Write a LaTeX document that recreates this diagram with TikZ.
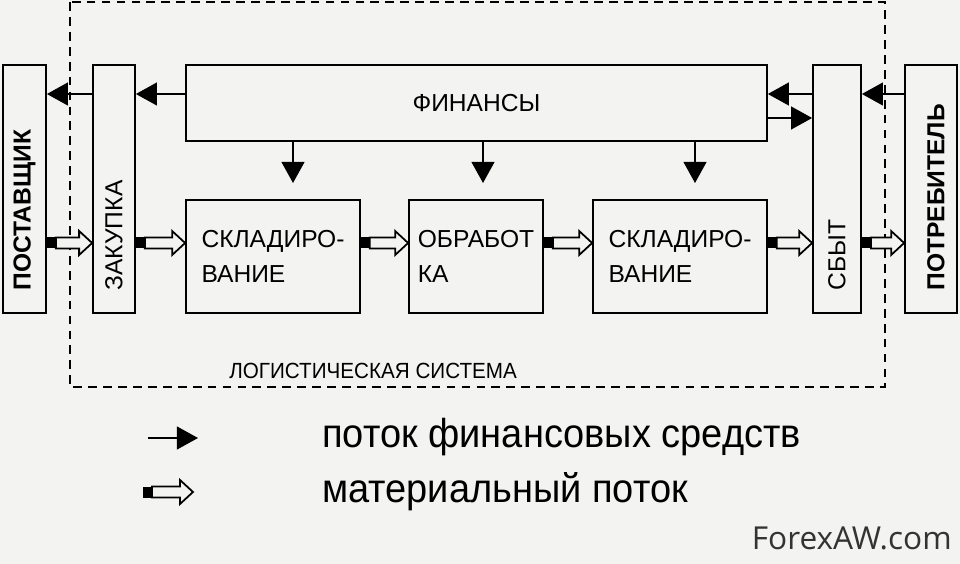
\documentclass[tikz,border=0pt]{standalone}
\usepackage{fontspec}
\setmainfont{Liberation Sans}
\newfontfamily\narrowfont[FakeStretch=0.94]{Liberation Sans}
\newfontfamily\wmfont{Open Sans}
\usetikzlibrary{arrows.meta,calc,positioning}
\definecolor{paper}{RGB}{243,244,241}

\tikzset{
  blok/.style={draw, line width=1pt, inner sep=0pt},
  vtext/.style={rotate=90, anchor=west, inner sep=0pt, font=\fontsize{14}{14}\selectfont},
  fin/.style={line width=1pt, -{Triangle[length=12pt,width=13pt]}},
  matbody/.style={line width=1pt, fill=paper},
  legtext/.style={anchor=west, inner sep=0pt, font=\narrowfont\fontsize{23}{23}\selectfont},
}
% black square, then a hollow arrow
\newcommand{\matflow}[2]{%
  \fill ($#1+(0,-5.5)$) rectangle ($#1+(9,5.5)$);
  \draw[matbody] ($#1+(9,-5.5)$) -- ($#2+(-13,-5.5)$) -- ($#2+(-13,-12)$) -- #2
    -- ($#2+(-13,12)$) -- ($#2+(-13,5.5)$) -- ($#1+(9,5.5)$) -- cycle;
}

\begin{document}
\begin{tikzpicture}[x=0.02cm, y=-0.02cm]
    % Fond
    \fill[paper] (0,0) rectangle (960,564);
    \useasboundingbox (0,0) rectangle (960,564);

    % Logistic system frame
    \draw[line width=1pt, dash pattern=on 5pt off 3.5pt] (70,2) rectangle (885,387);
    \node[anchor=west, inner sep=0pt, font=\narrowfont\fontsize{12.5}{12.5}\selectfont] (logsys) at (229,371) {ЛОГИСТИЧЕСКАЯ СИСТЕМА};

    % Blocks
    \node[blok, minimum width=0.86cm, minimum height=4.96cm] (postav) at (24.5,189) {};
    \node[blok, minimum width=0.84cm, minimum height=4.96cm] (zakup) at (114,189) {};
    \node[blok, minimum width=11.62cm, minimum height=1.52cm, font=\fontsize{14}{14}\selectfont] (fin) at (476.5,103) {ФИНАНСЫ};
    \node[blok, minimum width=3.48cm, minimum height=2.26cm, align=left, font=\fontsize{14}{20}\selectfont] (sklad1) at (273,256.5) {СКЛАДИРО-\\ВАНИЕ};
    \node[blok, minimum width=2.68cm, minimum height=2.26cm, align=left, font=\fontsize{14}{20}\selectfont] (obrab) at (476,256.5) {ОБРАБОТ\\КА};
    \node[blok, minimum width=3.48cm, minimum height=2.26cm, align=left, font=\fontsize{14}{20}\selectfont] (sklad2) at (680,256.5) {СКЛАДИРО-\\ВАНИЕ};
    \node[blok, minimum width=0.96cm, minimum height=4.96cm] (sbyt) at (837,189) {};
    \node[blok, minimum width=1.04cm, minimum height=4.96cm] (potreb) at (931,189) {};

    % Vertical labels
    \node[vtext, font=\bfseries\fontsize{14}{14}\selectfont] (postavT) at ($(postav.south)+(0,-23)$) {ПОСТАВЩИК};
    \node[vtext] (zakupT) at ($(zakup.south)+(0,-23)$) {ЗАКУПКА};
    \node[vtext] (sbytT) at ($(sbyt.south)+(0,-23)$) {СБЫТ};
    \node[vtext, font=\bfseries\fontsize{14}{14}\selectfont] (potrebT) at ($(potreb.south)+(5,-23)$) {ПОТРЕБИТЕЛЬ};

    % Levels of the flows
    \coordinate (ftop) at (0,94);
    \coordinate (fbot) at (0,118);
    \coordinate (mflow) at (0,243);

    % Financial flows
    \draw[fin] (zakup.west |- ftop) -- (postav.east |- ftop);
    \draw[fin] (fin.west |- ftop) -- (zakup.east |- ftop);
    \draw[fin] (sbyt.west |- ftop) -- (fin.east |- ftop);
    \draw[fin] (fin.east |- fbot) -- (sbyt.west |- fbot);
    \draw[fin] (potreb.west |- ftop) -- (sbyt.east |- ftop);
    \foreach \x/\n in {293/d1,483/d2,695/d3} {
        \coordinate (\n) at (\x,183);
        \draw[fin] (fin.south -| \n) -- (\n);
    }

    % Material flows
    \matflow{(postav.east |- mflow)}{(zakup.west |- mflow)}
    \matflow{(zakup.east |- mflow)}{(sklad1.west |- mflow)}
    \matflow{(sklad1.east |- mflow)}{(obrab.west |- mflow)}
    \matflow{(obrab.east |- mflow)}{(sklad2.west |- mflow)}
    \matflow{(sklad2.east |- mflow)}{(sbyt.west |- mflow)}
    \matflow{(sbyt.east |- mflow)}{(potreb.west |- mflow)}

    % Legend
    \coordinate (lfa) at (148,438);
    \coordinate (lfb) at (198,438);
    \draw[fin] (lfa) -- (lfb);
    \node[legtext] (legfin) at (322,437) {поток финансовых средств};
    \coordinate (lma) at (143,492);
    \coordinate (lmb) at (193,492);
    \matflow{(lma)}{(lmb)}
    \node[legtext] (legmat) at (322,492) {материальный поток};

    % Watermark
    \node[anchor=east, inner sep=0pt, text=black!80, font=\wmfont\fontsize{18}{18}\selectfont] (wm) at (952,538) {ForexAW.com};
\end{tikzpicture}
\end{document}
